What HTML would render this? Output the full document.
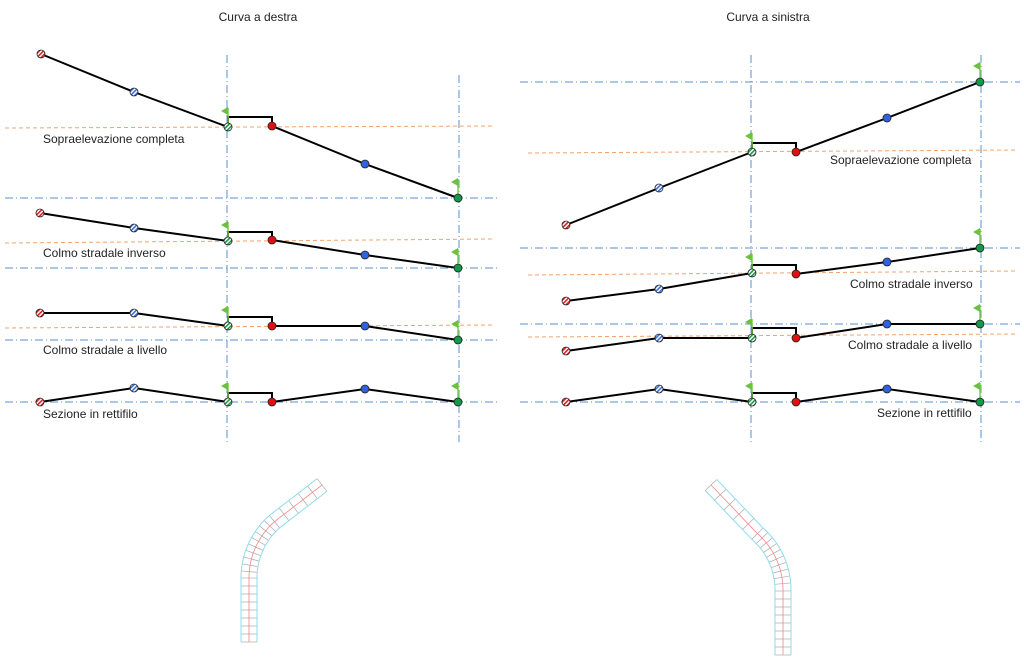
<!DOCTYPE html>
<html><head><meta charset="utf-8"><style>
html,body{margin:0;padding:0;background:#fff;}
svg{display:block;font-family:"Liberation Sans",sans-serif;}
</style></head><body>
<svg id="s" width="1024" height="668" viewBox="0 0 1024 668" xmlns="http://www.w3.org/2000/svg">
<defs>
<pattern id="hr" patternUnits="userSpaceOnUse" width="3" height="3" patternTransform="rotate(45)"><rect width="3" height="3" fill="#fff"/><rect width="1.6" height="3" fill="#e02020"/></pattern>
<pattern id="hb" patternUnits="userSpaceOnUse" width="3" height="3" patternTransform="rotate(45)"><rect width="3" height="3" fill="#fff"/><rect width="1.6" height="3" fill="#3a6fd8"/></pattern>
<pattern id="hg" patternUnits="userSpaceOnUse" width="3" height="3" patternTransform="rotate(45)"><rect width="3" height="3" fill="#fff"/><rect width="1.6" height="3" fill="#1a9a4a"/></pattern>
</defs>
<text x="258" y="21" font-size="12" text-anchor="middle" fill="#222">Curva a destra</text>
<text x="768" y="21" font-size="12" text-anchor="middle" fill="#222">Curva a sinistra</text>
<g id="g"></g>
</svg>
<script>
var g=document.getElementById('g'),h='';
function L(x1,y1,x2,y2,st){h+='<line x1="'+x1+'" y1="'+y1+'" x2="'+x2+'" y2="'+y2+'" '+st+'/>';}
var DD='stroke="#5b8fd0" stroke-width="1" stroke-dasharray="8,3,1,3"';
var OR='stroke="#f4a36a" stroke-width="1" stroke-dasharray="4,3"';
L(227,55,227,442,DD);L(459,75,459,442,DD);
L(751,55,751,442,DD);L(981,55,981,442,DD);
function row(p,bx1,bx2,by,orange,blue,label,lx,ly){
 L(orange[0],orange[1],orange[2],orange[3],OR);
 L(blue[0],blue[1],blue[2],blue[3],DD);
 var d='M'+p[0][0]+' '+p[0][1]+' L'+p[1][0]+' '+p[1][1]+' L'+p[2][0]+' '+p[2][1]+' L'+bx1+' '+by+' L'+bx2+' '+by+' L'+p[3][0]+' '+p[3][1]+' L'+p[4][0]+' '+p[4][1]+' L'+p[5][0]+' '+p[5][1];
 h+='<path d="'+d+'" fill="none" stroke="#000" stroke-width="2"/>';
 [[p[2][0],p[2][1]],[p[5][0],p[5][1]]].forEach(function(f){
  var x=f[0],y=f[1];
  h+='<line x1="'+x+'" y1="'+(y-19)+'" x2="'+x+'" y2="'+y+'" stroke="#7ccf4a" stroke-width="1.5"/>';
  h+='<polygon points="'+x+','+(y-20)+' '+(x-7)+','+(y-16)+' '+x+','+(y-12)+'" fill="#6cc23c"/>';
 });
 var f=['url(#hr)','url(#hb)','url(#hg)','#e01010','#2f62e0','#14984a'];
 for(var i=0;i<6;i++)h+='<circle cx="'+p[i][0]+'" cy="'+p[i][1]+'" r="4" fill="'+f[i]+'" stroke="#222" stroke-width="0.8"/>';
 h+='<text x="'+lx+'" y="'+ly+'" font-size="12" fill="#222">'+label+'</text>';
}
row([[41,54],[134,92],[228,127],[272,126],[365,164],[458,198]],228,272,117,[5,128,492,126],[5,198,498,198],'Sopraelevazione completa',43,143);
row([[40,213],[134,228],[228,241],[272,240],[365,255],[458,268]],228,272,232,[5,243,492,239],[5,268,498,268],'Colmo stradale inverso',43,257);
row([[40,313],[134,313],[228,326],[272,326],[365,326],[458,340]],228,272,317,[5,328,492,325],[5,340,498,340],'Colmo stradale a livello',43,354);
row([[40,402],[134,388],[228,402],[272,402],[365,389],[458,402]],228,272,393,[5,403,5,403],[5,402,498,402],'Sezione in rettifilo',43,418);
row([[566,225],[659,188],[752,152],[796,152],[887,118],[980,82]],752,796,143,[528,153,1018,150],[520,82,1020,82],'Sopraelevazione completa',830,164);
row([[566,301],[659,289],[752,273],[796,274],[887,262],[980,248]],752,796,265,[528,275,1018,271],[520,248,1020,248],'Colmo stradale inverso',850,288);
row([[566,351],[659,338],[752,338],[796,338],[887,324],[980,324]],752,796,328,[528,337,1018,334],[520,324,1020,324],'Colmo stradale a livello',848,349);
row([[566,402],[659,389],[752,402],[796,402],[887,389],[980,402]],752,796,393,[528,403,528,403],[520,402,1020,402],'Sezione in rettifilo',877,417);
function road(pts){
 var n=pts.length, out='';
 var L1=[],R1=[];
 for(var i=0;i<n;i++){
  var a=pts[Math.max(0,i-1)],b=pts[Math.min(n-1,i+1)];
  var dx=b[0]-a[0],dy=b[1]-a[1],l=Math.hypot(dx,dy);var nx=-dy/l*8,ny=dx/l*8;
  L1.push([pts[i][0]+nx,pts[i][1]+ny]);R1.push([pts[i][0]-nx,pts[i][1]-ny]);
  if(i%2==0)out+='<line x1="'+L1[i][0]+'" y1="'+L1[i][1]+'" x2="'+R1[i][0]+'" y2="'+R1[i][1]+'" stroke="#aaa" stroke-width="0.7"/>';
 }
 function pl(a,c,w){return '<polyline points="'+a.map(function(p){return p.join(',')}).join(' ')+'" fill="none" stroke="'+c+'" stroke-width="'+w+'"/>';}
 out+=pl(L1,'#8fdcef',1)+pl(R1,'#8fdcef',1)+pl(pts,'#ef8a8a',0.8);
 h+=out;
}
function arc(x0,y0,ytop,dir,ex,ey){
 var pts=[];for(var y=y0;y>=ytop;y-=4)pts.push([x0,y]);
 var cx=x0,cy=ytop,R=75;
 for(var t=0.05;t<=1.001;t+=0.05){var a=t*0.85;pts.push([cx+dir*(R-R*Math.cos(a)),cy-R*Math.sin(a)]);}
 var last=pts[pts.length-1];
 for(var t=0.1;t<=1.001;t+=0.1)pts.push([last[0]+(ex-last[0])*t,last[1]+(ey-last[1])*t]);
 road(pts);
}
arc(249,642,578,1,322,485);
arc(783,655,590,-1,711,485);
g.innerHTML=h;
</script>
</body></html>
